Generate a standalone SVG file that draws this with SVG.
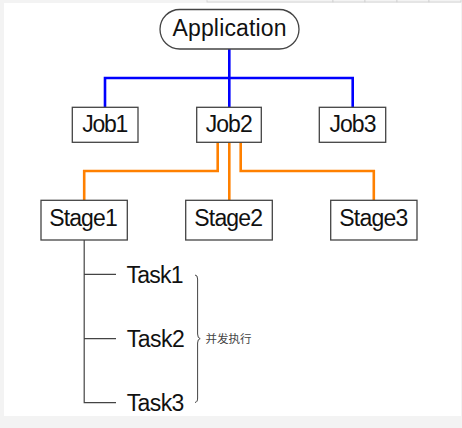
<svg xmlns="http://www.w3.org/2000/svg" width="462" height="428" viewBox="0 0 462 428">
<style>
.box{fill:#fff;stroke:#444;stroke-width:1.3}
.lbl{font-family:"Liberation Sans",Arial,sans-serif;font-size:23px;fill:#111;text-anchor:middle}
.blue{fill:none;stroke:#0000ff;stroke-width:2.6}
.orange{fill:none;stroke:#ff8000;stroke-width:2.6}
.gray{fill:none;stroke:#444;stroke-width:1.2}
.cjk{font-family:"Noto Sans CJK SC","Noto Sans",sans-serif;font-size:11.5px;fill:#444}
</style>
<rect x="0" y="0" width="462" height="428" fill="#f3f3f3"/>
<rect x="4" y="3" width="457" height="413" fill="#fff"/>
<g id="topbar" fill="#f3f3f3" stroke="#cfcfcf" stroke-width="0.8">
<rect x="207" y="-1" width="126" height="3"/>
<rect x="333" y="-1" width="32" height="3"/>
<rect x="365" y="-1" width="32" height="3"/>
<rect x="397" y="-1" width="32" height="3"/>
<rect x="429" y="-1" width="32" height="3"/>
</g>
<g id="connectors">
<path class="blue" d="M229.3,49 V78 M105,107.3 V78 H352.7 V107.3"/>
<path class="blue" d="M229.3,78 V107.3" stroke-width="1.8"/>
<path class="orange" d="M217.7,142.3 V171 H84.2 V200.3"/>
<path class="orange" d="M229.3,142.3 V200.3"/>
<path class="orange" d="M240.7,142.3 V171 H373.8 V200.3"/>
<path class="gray" d="M84.2,240 V402.7 H116 M84.2,274.3 H116 M84.2,338.7 H116"/>
</g>
<g id="application">
<rect class="box" x="160" y="9.5" width="139" height="39.5" rx="19.75"/>
<text class="lbl" x="229.5" y="35.5" textLength="114">Application</text>
</g>
<g id="job1">
<rect class="box" x="72.3" y="107.3" width="65.7" height="35"/>
<text class="lbl" x="105.3" y="132.3" textLength="46">Job1</text>
</g>
<g id="job2">
<rect class="box" x="196.7" y="107.3" width="64.6" height="35"/>
<text class="lbl" x="229.2" y="132.3" textLength="47">Job2</text>
</g>
<g id="job3">
<rect class="box" x="319.3" y="107.3" width="66.4" height="35"/>
<text class="lbl" x="353" y="132.3" textLength="47">Job3</text>
</g>
<g id="stage1">
<rect class="box" x="41" y="200.3" width="86.3" height="39.7"/>
<text class="lbl" x="83.5" y="226.3" textLength="68.4">Stage1</text>
</g>
<g id="stage2">
<rect class="box" x="185.7" y="200.3" width="86.6" height="39.7"/>
<text class="lbl" x="228.7" y="226.3" textLength="68.7">Stage2</text>
</g>
<g id="stage3">
<rect class="box" x="330.7" y="200.3" width="86.3" height="39.7"/>
<text class="lbl" x="373.8" y="226.3" textLength="69">Stage3</text>
</g>
<g id="task1">
<text class="lbl" x="155" y="283.3" textLength="57">Task1</text>
</g>
<g id="task2">
<text class="lbl" x="155.8" y="347.3" textLength="58">Task2</text>
</g>
<g id="task3">
<text class="lbl" x="155.5" y="410.5" textLength="57.7">Task3</text>
</g>
<g id="brace">
<path d="M195,275 Q197.6,275 197.6,279 L197.6,334 Q197.6,338.3 200.2,338.6 Q197.6,339 197.6,343 L197.6,398 Q197.6,402.4 195,402.4" fill="none" stroke="#444" stroke-width="1"/>
<text class="cjk" x="205.5" y="342.5" textLength="46">并发执行</text>
</g>
</svg>
